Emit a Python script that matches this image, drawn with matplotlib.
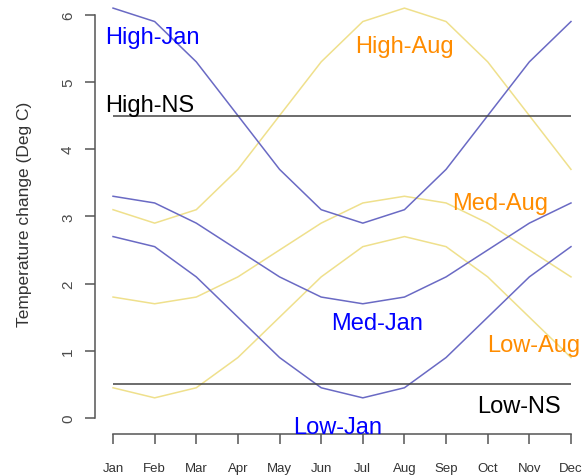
import matplotlib
matplotlib.use("Agg")
import matplotlib.pyplot as plt
import numpy as np

plt.rcParams["font.family"] = ["Liberation Sans", "DejaVu Sans"]

months = ["Jan", "Feb", "Mar", "Apr", "May", "Jun",
          "Jul", "Aug", "Sep", "Oct", "Nov", "Dec"]
x = np.arange(1, 13)

high_jan = [6.1, 5.9, 5.3, 4.5, 3.7, 3.1, 2.9, 3.1, 3.7, 4.5, 5.3, 5.9]
high_aug = [3.1, 2.9, 3.1, 3.7, 4.5, 5.3, 5.9, 6.1, 5.9, 5.3, 4.5, 3.7]
med_jan = [3.3, 3.2, 2.9, 2.5, 2.1, 1.8, 1.7, 1.8, 2.1, 2.5, 2.9, 3.2]
med_aug = [1.8, 1.7, 1.8, 2.1, 2.5, 2.9, 3.2, 3.3, 3.2, 2.9, 2.5, 2.1]
low_jan = [2.7, 2.55, 2.1, 1.5, 0.9, 0.45, 0.3, 0.45, 0.9, 1.5, 2.1, 2.55]
low_aug = [0.45, 0.3, 0.45, 0.9, 1.5, 2.1, 2.55, 2.7, 2.55, 2.1, 1.5, 0.9]
high_ns = 4.5
low_ns = 0.5

# label text, x (month index), baseline y, colour
labels = [
    ("High-Jan", 1.95, 5.58, "#0000ff"),
    ("High-Aug", 8.0, 5.44, "darkorange"),
    ("High-NS", 1.87, 4.57, "black"),
    ("Med-Aug", 10.3, 3.11, "darkorange"),
    ("Med-Jan", 7.35, 1.33, "#0000ff"),
    ("Low-Aug", 11.1, 0.99, "darkorange"),
    ("Low-NS", 10.74, 0.085, "black"),
    ("Low-Jan", 6.4, -0.22, "#0000ff"),
]

fig = plt.figure(figsize=(5.85, 4.77), dpi=100)
ax = fig.add_axes([94.7 / 585, 41.6 / 477, 494.6 / 585, 442.7 / 477])

blue = "#6a6ac4"
yellow = "#efe08c"
for s in [high_aug, med_aug, low_aug]:
    ax.plot(x, s, color=yellow, lw=1.1)
for s in [high_jan, med_jan, low_jan]:
    ax.plot(x, s, color=blue, lw=1.1)
ax.hlines([high_ns, low_ns], 1, 12, color="#444444", lw=1.1)

for txt, tx, ty, c in labels:
    ax.text(tx, ty, txt, color=c, fontsize=17, ha="center", va="baseline")

ax.set_xlim(0.56, 12.44)
ax.set_ylim(-0.244, 6.344)

for side in ["top", "right"]:
    ax.spines[side].set_visible(False)
ax.spines["left"].set_bounds(0, 6)
ax.spines["bottom"].set_bounds(1, 12)
for side in ["left", "bottom"]:
    ax.spines[side].set_color("#555555")
    ax.spines[side].set_linewidth(1.1)

ax.set_yticks(range(0, 7))
ax.set_xticks(x)
ax.set_xticklabels(months)
ax.tick_params(axis="y", length=7.2, width=1.1, color="#555555",
               labelcolor="#4a4a4a", labelsize=11, pad=7)
ax.tick_params(axis="x", length=7.2, width=1.1, color="#555555",
               labelcolor="#333333", labelsize=9.5, pad=12.5)
for lab in ax.get_yticklabels():
    lab.set_rotation(90)
    lab.set_va("center")

ax.text(-0.141, 0.5, "Temperature change (Deg C)", transform=ax.transAxes,
        rotation=90, ha="center", va="center", fontsize=12.5, color="#333333")

fig.savefig("out.png", dpi=100)
